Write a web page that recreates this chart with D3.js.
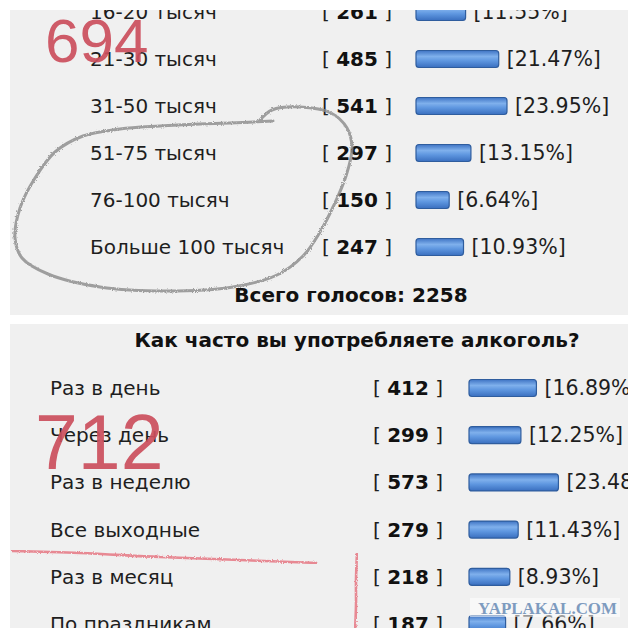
<!DOCTYPE html>
<html><head><meta charset="utf-8">
<script src="https://cdn.jsdelivr.net/npm/d3@7/dist/d3.min.js"></script>
<style>html,body{margin:0;padding:0;background:#fff;}svg{display:block;}</style>
</head><body>
<svg id="c" width="640" height="640"></svg>
<script>
// ---- data ----
const incomeCategories = ["16-20 тысяч","21-30 тысяч","31-50 тысяч","51-75 тысяч","76-100 тысяч","Больше 100 тысяч"];
const incomeVotes = [261, 485, 541, 297, 150, 247];
const incomePercents = [11.55, 21.47, 23.95, 13.15, 6.64, 10.93];
const incomeTotalLabel = "Всего голосов: 2258";

const alcoholTitle = "Как часто вы употребляете алкоголь?";
const alcoholCategories = ["Раз в день","Через день","Раз в неделю","Все выходные","Раз в месяц","По праздникам"];
const alcoholVotes = [412, 299, 573, 279, 218, 187];
const alcoholPercents = [16.89, 12.25, 23.48, 11.43, 8.93, 7.66];

const note1 = "694";
const note2 = "712";
const watermark = "YAPLAKAL.COM";

// ---- drawing ----
const svg = d3.select("#c");
const defs = svg.append("defs");
const grad = defs.append("linearGradient").attr("id","barg").attr("x1",0).attr("y1",0).attr("x2",0).attr("y2",1);
grad.append("stop").attr("offset","0%").attr("stop-color","#3f74c4");
grad.append("stop").attr("offset","35%").attr("stop-color","#7fb0ec");
grad.append("stop").attr("offset","60%").attr("stop-color","#5f97e0");
grad.append("stop").attr("offset","100%").attr("stop-color","#3a6fbf");

const rough = defs.append("filter").attr("id","rough").attr("x","-5%").attr("y","-5%").attr("width","110%").attr("height","110%");
rough.append("feTurbulence").attr("type","fractalNoise").attr("baseFrequency",1.2).attr("numOctaves",2).attr("result","n");
rough.append("feDisplacementMap").attr("in","SourceGraphic").attr("in2","n").attr("scale",3);

defs.append("clipPath").attr("id","clipTop").append("rect").attr("x",10).attr("y",10).attr("width",618).attr("height",305);
defs.append("clipPath").attr("id","clipBot").append("rect").attr("x",10).attr("y",324).attr("width",618).attr("height",304);

const barW = d3.scaleLinear().domain([0,100]).range([11,345]);
const FONT = "DejaVu Sans, Verdana, sans-serif";

function panel(cfg){
  const g = svg.append("g").attr("clip-path", `url(#${cfg.clip})`);
  g.append("rect").attr("x",10).attr("y",cfg.top).attr("width",618).attr("height",cfg.h).attr("fill","#f0f0f0");
  const y = d3.scalePoint().domain(cfg.cats).range([cfg.y0, cfg.y0 + cfg.step*(cfg.cats.length-1)]);
  const rows = g.selectAll("g.row").data(cfg.cats.map((c,i)=>({c, v:cfg.votes[i], p:cfg.pcts[i]})))
    .join("g").attr("class","row").attr("transform", d=>`translate(0,${y(d.c)})`);
  rows.append("text").attr("x",cfg.labelX).attr("y",7).attr("font-family",FONT)
    .attr("font-size",20).attr("fill","#1e1e1e").text(d=>d.c);
  const br = rows.append("text").attr("x",cfg.bracketX).attr("y",7).attr("font-family",FONT)
    .attr("font-size",20).attr("fill","#1e1e1e").attr("xml:space","preserve");
  br.append("tspan").text("[ ");
  br.append("tspan").attr("font-weight","bold").attr("fill","#111").text(d=>d.v);
  br.append("tspan").text(" ]");
  rows.append("rect").attr("x",cfg.barX).attr("y",-8.5).attr("height",17).attr("rx",3)
    .attr("width",d=>barW(d.p)).attr("fill","url(#barg)").attr("stroke","#2f5d9e").attr("stroke-width",1.2);
  rows.append("text").attr("x",d=>cfg.barX+barW(d.p)+8).attr("y",7).attr("font-family",FONT)
    .attr("font-size",20.5).attr("fill","#1e1e1e").text(d=>`[${d.p.toFixed(2)}%]`);
  return g;
}

const gTop = panel({clip:"clipTop", top:10, h:305, cats:incomeCategories, votes:incomeVotes, pcts:incomePercents,
  y0:12, step:47, labelX:90, bracketX:322, barX:416});
gTop.append("text").attr("x",351).attr("y",302).attr("text-anchor","middle").attr("font-family",FONT)
  .attr("font-size",20).attr("font-weight","bold").attr("fill","#111").text(incomeTotalLabel);

const gBot = panel({clip:"clipBot", top:324, h:304, cats:alcoholCategories, votes:alcoholVotes, pcts:alcoholPercents,
  y0:388, step:47.2, labelX:50, bracketX:373, barX:469});
gBot.append("text").attr("x",357).attr("y",347).attr("text-anchor","middle").attr("font-family",FONT)
  .attr("font-size",20).attr("font-weight","bold").attr("fill","#111").text(alcoholTitle);

// ---- hand-drawn annotations ----
const loop = [[273,121],[230,123],[200,124],[160,126],[120,129],[83,136],[55,152],[35,178],[20,208],[15,238],[22,258],[48,274],
  [100,287],[167,291],[233,287],[277,275],[303,256],[320,232],[334,205],[346,176],[352,148],[347,128],[331,113],[300,107],[272,110],[260,120]];
svg.append("path").attr("d", d3.line().curve(d3.curveCatmullRom)(loop))
  .attr("fill","none").attr("stroke","#8a8a8a").attr("stroke-width",3).attr("stroke-linecap","round")
  .attr("opacity",0.8).attr("filter","url(#rough)");

const gRed = svg.append("g").attr("clip-path","url(#clipBot)");
gRed.append("path").attr("d", d3.line().curve(d3.curveCatmullRom)([[12,551],[80,553],[160,557],[240,560],[317,563]]))
  .attr("fill","none").attr("stroke","#e66f7c").attr("stroke-width",2.6).attr("opacity",0.8).attr("filter","url(#rough)");
gRed.append("path").attr("d", d3.line().curve(d3.curveCatmullRom)([[357,553],[356,580],[356,605],[355,632]]))
  .attr("fill","none").attr("stroke","#e66f7c").attr("stroke-width",2.6).attr("opacity",0.8).attr("filter","url(#rough)");

svg.append("text").attr("x",45).attr("y",62).attr("font-family","Liberation Sans, Arial, sans-serif")
  .attr("font-size",62).attr("fill","#cc4f5d").attr("opacity",0.92).text(note1);
svg.append("text").attr("x",35).attr("y",469).attr("font-family","Liberation Sans, Arial, sans-serif")
  .attr("font-size",77).attr("fill","#cc4f5d").attr("opacity",0.92).text(note2);

// watermark
svg.append("rect").attr("x",470).attr("y",598).attr("width",150).attr("height",19).attr("fill","#ffffff").attr("opacity",0.55);
svg.append("text").attr("x",478).attr("y",614).attr("font-family","Liberation Serif, serif").attr("font-weight","bold")
  .attr("font-size",16).attr("fill","#7e9bbf").attr("textLength",139).attr("lengthAdjust","spacingAndGlyphs").text(watermark);
</script>
</body></html>
